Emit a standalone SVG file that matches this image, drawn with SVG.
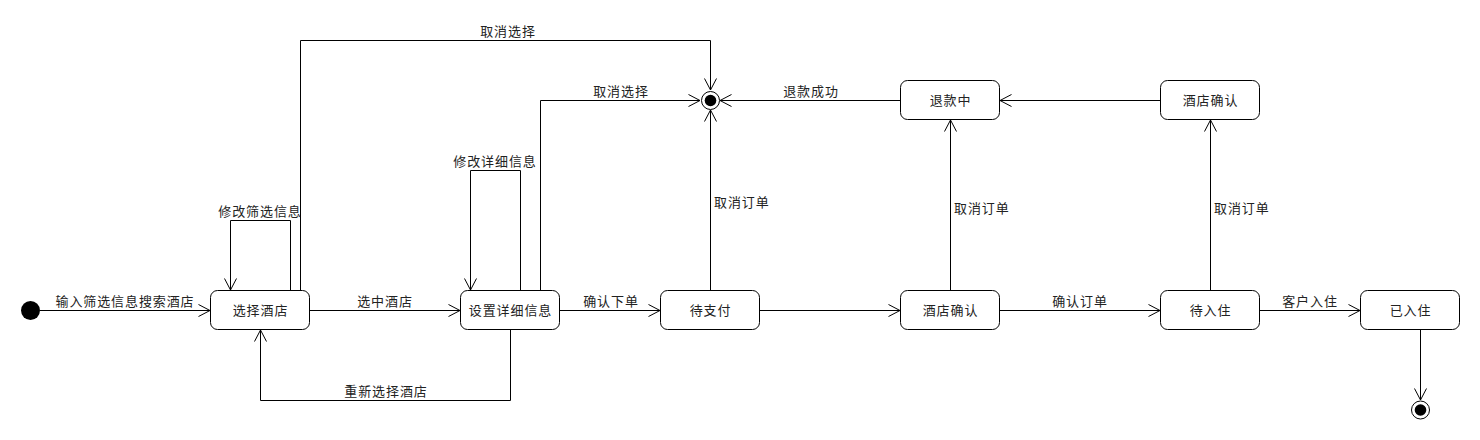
<svg xmlns="http://www.w3.org/2000/svg" width="1480" height="440" viewBox="0 0 1480 440">
<style>
.node rect{fill:#fff;stroke:#000;stroke-width:1}
.node text,.lbl{font-family:"Noto Sans CJK SC","Liberation Sans",sans-serif;font-size:13px;letter-spacing:0.9px;fill:#222}
.node text{text-anchor:middle}
.lbl{text-anchor:middle}
.lbl.l{text-anchor:start}
#connectors path{fill:none;stroke:#000;stroke-width:1;marker-end:url(#arr)}
</style>
<defs>
<marker id="arr" markerUnits="userSpaceOnUse" markerWidth="14" markerHeight="14" refX="12" refY="7" orient="auto">
<path d="M0.5,1 L12,7 L0.5,13" fill="none" stroke="#000" stroke-width="1"/>
</marker>
</defs>
<rect width="1480" height="440" fill="#fff"/>
<g id="connectors">
<path d="M40,310.5 H210"/>
<path d="M290.5,290 V220.5 H230.5 V290"/>
<path d="M300.5,290 V40.5 H710.5 V90"/>
<path d="M310,310.5 H460"/>
<path d="M520.5,290 V170.5 H470.5 V290"/>
<path d="M540.5,290 V100.5 H700"/>
<path d="M510.5,330 V400.5 H260.5 V330"/>
<path d="M560,310.5 H660"/>
<path d="M710.5,290 V110"/>
<path d="M760,310.5 H900"/>
<path d="M900,100.5 H720"/>
<path d="M950.5,290 V120"/>
<path d="M1000,310.5 H1160"/>
<path d="M1160,100.5 H1000"/>
<path d="M1210.5,290 V120"/>
<path d="M1260,310.5 H1360"/>
<path d="M1420.5,330 V400"/>
<text class="lbl" x="125" y="306">输入筛选信息搜索酒店</text>
<text class="lbl" x="260" y="216">修改筛选信息</text>
<text class="lbl" x="508" y="36">取消选择</text>
<text class="lbl" x="385" y="306">选中酒店</text>
<text class="lbl" x="495" y="166">修改详细信息</text>
<text class="lbl" x="621" y="96">取消选择</text>
<text class="lbl" x="386" y="396">重新选择酒店</text>
<text class="lbl" x="611" y="306">确认下单</text>
<text class="lbl l" x="714" y="207">取消订单</text>
<text class="lbl" x="811" y="96">退款成功</text>
<text class="lbl l" x="954" y="213">取消订单</text>
<text class="lbl" x="1080" y="306">确认订单</text>
<text class="lbl l" x="1214" y="213">取消订单</text>
<text class="lbl" x="1310" y="306">客户入住</text>
</g>
<g id="start"><circle cx="30.5" cy="310.5" r="9.5" fill="#000"/></g>
<g id="end1"><circle cx="710.5" cy="100.5" r="9" fill="#fff" stroke="#000"/><circle cx="710.5" cy="100.5" r="5.8" fill="#000"/></g>
<g id="end2"><circle cx="1420.5" cy="410" r="9" fill="#fff" stroke="#000"/><circle cx="1420.5" cy="410" r="5.8" fill="#000"/></g>
<g id="n1" class="node"><rect x="210.5" y="290.5" width="99" height="39" rx="7"/><text x="260.5" y="315">选择酒店</text></g>
<g id="n2" class="node"><rect x="460.5" y="290.5" width="99" height="39" rx="7"/><text x="510.5" y="315">设置详细信息</text></g>
<g id="n3" class="node"><rect x="660.5" y="290.5" width="99" height="39" rx="7"/><text x="710.5" y="315">待支付</text></g>
<g id="n4" class="node"><rect x="900.5" y="290.5" width="99" height="39" rx="7"/><text x="950.5" y="315">酒店确认</text></g>
<g id="n5" class="node"><rect x="1160.5" y="290.5" width="99" height="39" rx="7"/><text x="1210.5" y="315">待入住</text></g>
<g id="n6" class="node"><rect x="1360.5" y="290.5" width="99" height="39" rx="7"/><text x="1410.5" y="315">已入住</text></g>
<g id="n7" class="node"><rect x="900.5" y="80.5" width="99" height="39" rx="7"/><text x="950.5" y="105">退款中</text></g>
<g id="n8" class="node"><rect x="1160.5" y="80.5" width="99" height="39" rx="7"/><text x="1210.5" y="105">酒店确认</text></g>
</svg>
